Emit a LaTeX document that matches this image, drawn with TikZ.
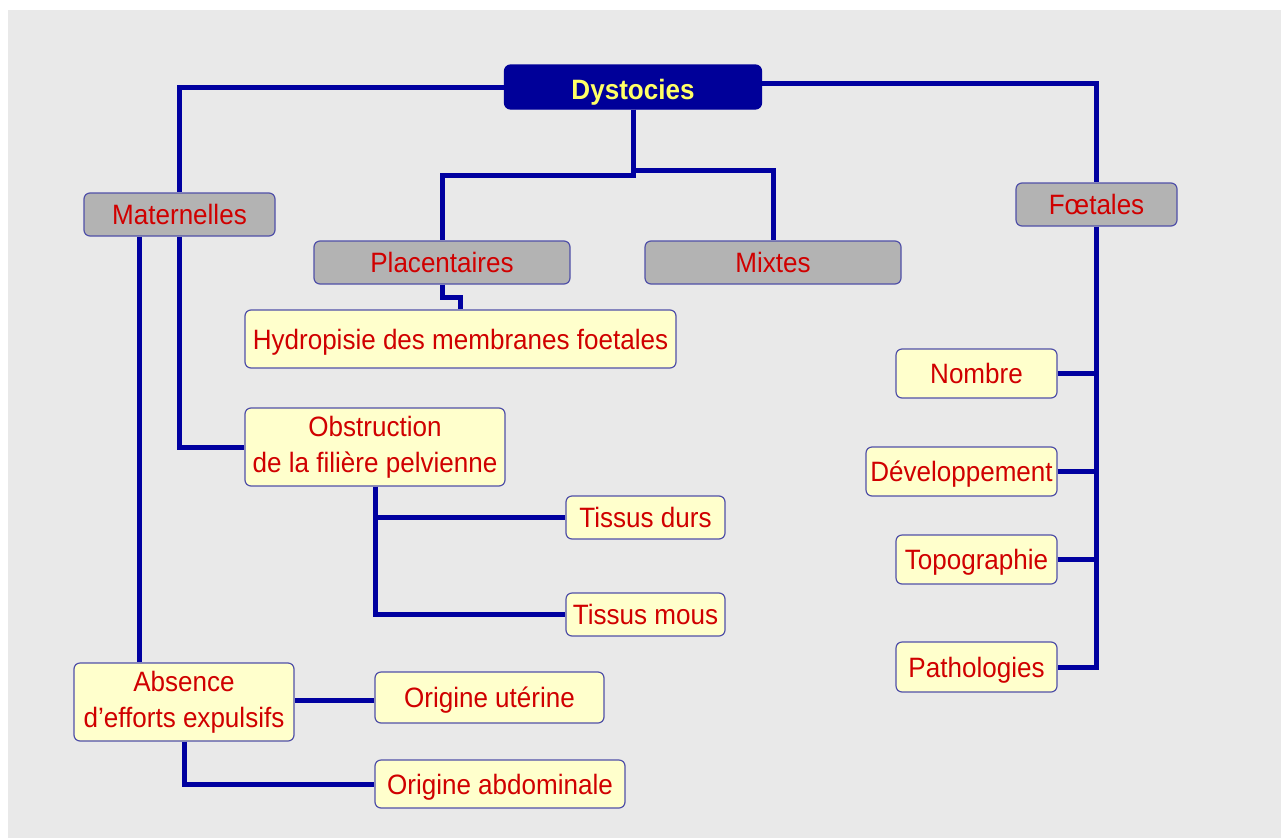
\documentclass[tikz,border=0pt]{standalone}
\usepackage{fontspec}
\setmainfont{Liberation Sans}[FakeStretch=0.93]
\definecolor{conncol}{HTML}{0000A0}
\definecolor{bordcol}{HTML}{5050A8}
\definecolor{graybox}{HTML}{B3B3B3}
\definecolor{yelbox}{HTML}{FFFFCC}
\definecolor{redtxt}{HTML}{D00000}
\definecolor{dysfill}{HTML}{000099}
\definecolor{dystxt}{HTML}{FFFF66}
\definecolor{bgcol}{HTML}{E9E9E9}
\tikzset{
  basebox/.style={rectangle, rounded corners=6pt, draw=bordcol, line width=1.2pt, inner sep=0pt, align=center, text=redtxt, font=\fontsize{28}{36}\selectfont},
  oneline/.style={text height=20pt, text depth=0pt},
  graylabel/.style={basebox, oneline, fill=graybox},
  yellabel/.style={basebox, oneline, fill=yelbox},
  yelmulti/.style={basebox, fill=yelbox},
  rootbox/.style={basebox, fill=dysfill, draw=dysfill, text=dystxt, text height=24pt, text depth=0pt, font=\fontsize{28}{31}\selectfont\bfseries},
  conn/.style={draw=conncol, line width=5pt}
}
\begin{document}
\begin{tikzpicture}[x=1pt,y=-1pt]
\useasboundingbox (0,0) rectangle (1281,838);
\fill[white] (0,0) rectangle (1281,838);
\fill[bgcol] (8,10) rectangle (1281,838);

\node[rootbox, minimum width=257pt, minimum height=44pt] (dys) at (633,87) {Dystocies};
\node[graylabel, minimum width=191pt, minimum height=43pt] (mat) at (179.5,214.5) {Maternelles};
\node[graylabel, minimum width=256pt, minimum height=43pt] (pla) at (442,262.5) {Placentaires};
\node[graylabel, minimum width=256pt, minimum height=43pt] (mix) at (773,262.5) {Mixtes};
\node[graylabel, minimum width=161pt, minimum height=43pt] (foe) at (1096.5,204.5) {Fœtales};

\node[yellabel, minimum width=431pt, minimum height=58pt] (hyd) at (460.5,339) {Hydropisie des membranes foetales};
\node[yelmulti, minimum width=260pt, minimum height=78pt] (obs) at (375,447) {Obstruction\\de la filière pelvienne};
\node[yellabel, minimum width=159pt, minimum height=43pt] (td) at (645.5,517.5) {Tissus durs};
\node[yellabel, minimum width=159pt, minimum height=43pt] (tm) at (645.5,614.5) {Tissus mous};
\node[yelmulti, minimum width=220pt, minimum height=78pt] (abs) at (184,702) {Absence\\d’efforts expulsifs};
\node[yellabel, minimum width=229pt, minimum height=51pt] (ou) at (489.5,697.5) {Origine utérine};
\node[yellabel, minimum width=250pt, minimum height=48pt] (oa) at (500,784) {Origine abdominale};

\node[yellabel, minimum width=161pt, minimum height=49pt] (nom) at (976.5,373.5) {Nombre};
\node[yellabel, minimum width=191pt, minimum height=49pt] (dev) at (961.5,471.5) {Développement};
\node[yellabel, minimum width=161pt, minimum height=49pt] (topo) at (976.5,559.5) {Topographie};
\node[yellabel, minimum width=161pt, minimum height=50pt] (pat) at (976.5,667) {Pathologies};

% connectors
\draw[conn] (dys.west) -| (mat.north);
\draw[conn] ([yshift=4pt]dys.east) -| (foe.north);
\draw[conn] (dys.south) -- ++(0,66) -| (pla.north);
\draw[conn] (dys.south) -- ++(0,61) -| (mix.north);
\draw[conn] (pla.south) -- ++(0,13) -| (hyd.north);
\draw[conn] (mat.south) |- (obs.west);
\coordinate (m1) at ([xshift=-40pt]mat.south);
\draw[conn] (m1) -- (m1 |- abs.north);
\draw[conn] (obs.south) |- (td.west);
\draw[conn] (obs.south) |- (tm.west);
\draw[conn] ([yshift=-3pt]ou.west) -- ([yshift=-3pt]ou.west -| abs.east);
\draw[conn] (abs.south) |- (oa.west);
\draw[conn] (foe.south) |- (pat.east);
\draw[conn] (nom.east) -- (nom.east -| foe.south);
\draw[conn] (dev.east) -- (dev.east -| foe.south);
\draw[conn] (topo.east) -- (topo.east -| foe.south);
\end{tikzpicture}
\end{document}
